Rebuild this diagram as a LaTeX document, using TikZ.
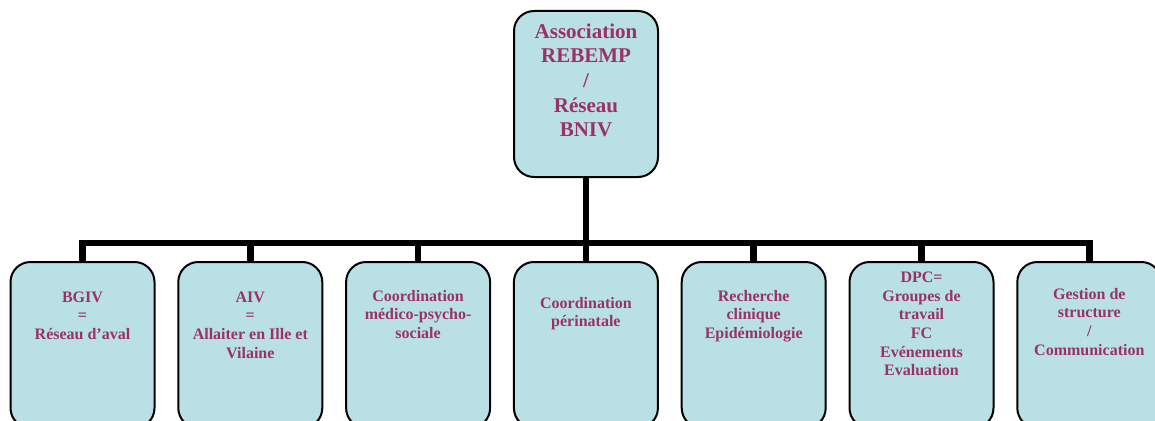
\documentclass[tikz,border=0pt]{standalone}
\usepackage{fontspec}
\setmainfont{Liberation Serif}
\usetikzlibrary{backgrounds}
\definecolor{boxfill}{RGB}{185,224,228}
\definecolor{txtcol}{RGB}{153,51,102}
\begin{document}
\begin{tikzpicture}[x=1pt,y=1pt,
  box/.style={draw=black,line width=2pt,fill=boxfill,rounded corners=20pt,
    minimum width=144pt,minimum height=166pt,inner sep=0pt,anchor=north},
  lbl/.style={text=txtcol,align=center,inner sep=0pt,anchor=north,
    font=\fontsize{16}{18.6}\selectfont\bfseries},
  toplbl/.style={lbl,font=\fontsize{21}{24.6}\selectfont\bfseries},
  conn/.style={line width=6.5pt,draw=black}]
\useasboundingbox (0,0) rectangle (1155,-420);
\clip (0,0) rectangle (1155,-420);
\coordinate (bar) at (586,-243);
\node[box] (top) at (586,-10) {};
\node[box] (c1) at (82.5,-261) {};
\node[box] (c2) at (250.3,-261) {};
\node[box] (c3) at (418.1,-261) {};
\node[box] (c4) at (585.9,-261) {};
\node[box] (c5) at (753.7,-261) {};
\node[box] (c6) at (921.5,-261) {};
\node[box] (c7) at (1089.3,-261) {};
\begin{scope}[on background layer]
  \draw[conn] (top.south) -- (top.south |- bar);
  \draw[conn,line join=miter] (c1.north) |- (bar) -| (c7.north);
  \foreach \n in {c2,c3,c4,c5,c6}{\draw[conn] (\n.north) -- (\n.north |- bar);}
\end{scope}
\node[toplbl] (t0) at (586,-23.5) {Association\\REBEMP\\/\\Réseau\\BNIV};
\node[lbl] (t1) at (82.5,-291.5) {BGIV\\=\\Réseau d’aval};
\node[lbl] (t2) at (250.3,-291.5) {AIV\\=\\Allaiter en Ille et\\Vilaine};
\node[lbl] (t3) at (418.1,-290) {Coordination\\médico-psycho-\\sociale};
\node[lbl] (t4) at (585.9,-297) {Coordination\\périnatale};
\node[lbl] (t5) at (753.7,-290) {Recherche\\clinique\\Epidémiologie};
\node[lbl] (t6) at (921.5,-272) {DPC=\\Groupes de\\travail\\FC\\Evénements\\Evaluation};
\node[lbl] (t7) at (1089.3,-288) {Gestion de\\structure\\/\\Communication};
\end{tikzpicture}
\end{document}
